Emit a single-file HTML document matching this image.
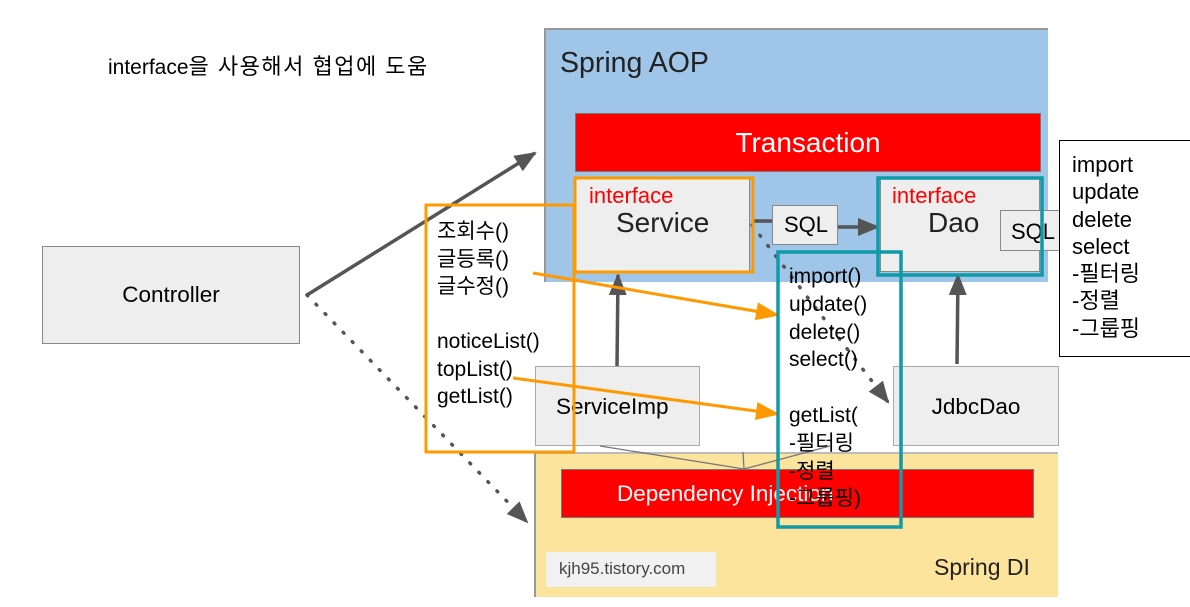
<!DOCTYPE html>
<html><head><meta charset="utf-8"><style>
body{margin:0;width:1190px;height:607px;background:#fff;position:relative;overflow:hidden;font-family:"Liberation Sans","Noto Sans CJK KR",sans-serif}
.a{position:absolute;box-sizing:border-box}
.t{position:absolute;white-space:nowrap}
</style></head><body>
<div class="t" style="left:108px;top:49px;font-size:21px;color:#000">interface<span style="font-size:22px;letter-spacing:1.5px">을 사용해서 협업에 도움</span></div>
<div class="a" style="left:544px;top:28px;width:504px;height:254px;background:#9fc5e8;border-left:2px solid #999;border-top:2px solid #999"></div>
<div class="t" style="left:560px;top:47px;font-size:28.5px;color:#222">Spring AOP</div>
<div class="a" style="left:575px;top:113px;width:466px;height:59px;background:#f00;border:1px solid #777;color:#fff;font-size:28px;text-align:center;line-height:57px">Transaction</div>
<div class="a" style="left:534px;top:452px;width:524px;height:145px;background:#fde49c;border-left:2px solid #999;border-top:2px solid #bbb"></div>
<div class="a" style="left:561px;top:469px;width:473px;height:49px;background:#f00;border:1px solid #777;color:#fff;font-size:22.5px;line-height:47px;padding-left:55px">Dependency Injection</div>
<div class="a" style="left:546px;top:552px;width:170px;height:35px;background:#f1f1f1;color:#444;font-size:17px;line-height:33px;padding-left:13px">kjh95.tistory.com</div>
<div class="t" style="left:934px;top:554px;font-size:23px;color:#222">Spring DI</div>
<div class="a" style="left:42px;top:246px;width:258px;height:98px;background:#eee;border:1px solid #888;font-size:22.5px;text-align:center;line-height:96px">Controller</div>
<div class="a" style="left:575px;top:177px;width:175px;height:96px;background:#eee;border:1px solid #888"></div>
<div class="t" style="left:589px;top:183px;font-size:22px;color:#f00">interface</div>
<div class="t" style="left:616px;top:207px;font-size:28px;color:#222">Service</div>
<div class="a" style="left:880px;top:178px;width:160px;height:94px;background:#eee;border:1px solid #888"></div>
<div class="t" style="left:892px;top:183px;font-size:22px;color:#f00">interface</div>
<div class="t" style="left:928px;top:207px;font-size:28px;color:#222">Dao</div>
<div class="a" style="left:772px;top:205px;width:66px;height:40px;background:#eee;border:1px solid #888;font-size:22px;line-height:38px;padding-left:11px">SQL</div>
<div class="a" style="left:1000px;top:210px;width:66px;height:41px;background:#eee;border:1px solid #888;font-size:22px;line-height:41px;padding-left:10px">SQL</div>
<div class="a" style="left:535px;top:366px;width:165px;height:80px;background:#eee;border:1px solid #aaa;font-size:22.5px;line-height:80px;padding-left:20px">ServiceImp</div>
<div class="a" style="left:893px;top:366px;width:166px;height:80px;background:#eee;border:1px solid #aaa;font-size:22.5px;line-height:80px;text-align:center">JdbcDao</div>
<div class="a" style="left:1059px;top:140px;width:140px;height:217px;background:#fff;border:1px solid #000;font-size:22px;line-height:27.3px;padding:10px 0 0 12px">import<br>update<br>delete<br>select<br>-필터링<br>-정렬<br>-그룹핑</div>
<svg class="a" style="left:0;top:0" width="1190" height="607">
<defs>
<marker id="G" markerWidth="22" markerHeight="22" refX="20" refY="11" orient="auto" markerUnits="userSpaceOnUse"><path d="M0,2L22,11L0,20z" fill="#555"/></marker>
<marker id="o" markerWidth="24" markerHeight="20" refX="22" refY="10" orient="auto" markerUnits="userSpaceOnUse"><path d="M0,1L24,10L0,19z" fill="#f90"/></marker>
</defs>
<line x1="600" y1="446" x2="744" y2="469" stroke="#777" stroke-width="1.3"/>
<line x1="744" y1="469" x2="830" y2="446" stroke="#777" stroke-width="1.3"/>
<line x1="743" y1="452" x2="744" y2="469" stroke="#777" stroke-width="1.3"/>
<line x1="307" y1="295" x2="535" y2="153" stroke="#555" stroke-width="3.5" marker-end="url(#G)"/>
<line x1="307" y1="295" x2="527" y2="522" stroke="#555" stroke-width="3.5" stroke-dasharray="1,12" stroke-linecap="round" marker-end="url(#G)"/>
<line x1="752" y1="221" x2="772" y2="221" stroke="#555" stroke-width="3.5"/>
<line x1="838" y1="227" x2="878" y2="227" stroke="#555" stroke-width="3.5" marker-end="url(#G)"/>
<line x1="617" y1="366" x2="618" y2="275" stroke="#555" stroke-width="3.5" marker-end="url(#G)"/>
<line x1="957" y1="364" x2="958" y2="275" stroke="#555" stroke-width="3.5" marker-end="url(#G)"/>
<line x1="752" y1="225" x2="888" y2="402" stroke="#555" stroke-width="3.5" stroke-dasharray="1,12" stroke-linecap="round" marker-end="url(#G)"/>
<line x1="533" y1="273" x2="778" y2="315" stroke="#f90" stroke-width="3" marker-end="url(#o)"/>
<line x1="513" y1="378" x2="778" y2="414" stroke="#f90" stroke-width="3" marker-end="url(#o)"/>
<rect x="575" y="178" width="178" height="94" fill="none" stroke="#f90" stroke-width="3"/>
<rect x="426" y="205" width="148" height="247" fill="none" stroke="#f90" stroke-width="3"/>
<rect x="878" y="178" width="164" height="97" fill="none" stroke="#0e9aa7" stroke-width="3.5"/>
<rect x="778" y="252" width="123" height="275" fill="none" stroke="#0e9aa7" stroke-width="3.5"/>
</svg>
<div class="t" style="left:437px;top:218px;font-size:21px;line-height:27.5px">조회수()<br>글등록()<br>글수정()<br><br>noticeList()<br>topList()<br>getList()</div>
<div class="t" style="left:789px;top:263px;font-size:21px;line-height:27.8px">import()<br>update()<br>delete()<br>select()<br><br>getList(<br>-필터링<br>-정렬<br>-그룹핑)</div>
</body></html>
